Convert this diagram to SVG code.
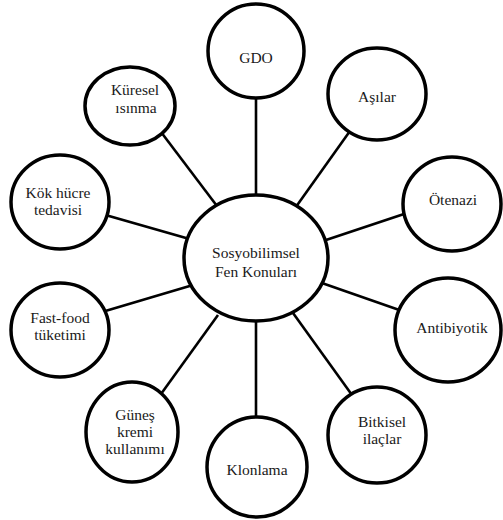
<svg xmlns="http://www.w3.org/2000/svg" width="503" height="520" viewBox="0 0 503 520">
<style>
.n{fill:#fff;stroke:#000;stroke-width:3.5}
.c line{stroke:#000;stroke-width:2.6}
.t text{font-family:'Liberation Serif','Tinos','Times New Roman','DejaVu Serif',serif;font-size:15.5px;fill:#1a1a1a;text-anchor:middle}
</style>
<rect width="503" height="520" fill="#fff"/>
<g id="connectors" class="c">
<line x1="256" y1="90" x2="256" y2="200"/>
<line x1="161" y1="132" x2="220" y2="210"/>
<line x1="350" y1="131" x2="293" y2="211"/>
<line x1="102" y1="214" x2="193" y2="240"/>
<line x1="410" y1="212" x2="320" y2="242"/>
<line x1="102" y1="312" x2="193" y2="285"/>
<line x1="319" y1="282" x2="405" y2="312"/>
<line x1="218" y1="315" x2="161" y2="394"/>
<line x1="256" y1="315" x2="256" y2="425"/>
<line x1="293" y1="313" x2="352" y2="395"/>
</g>
<g class="t" font-family="Liberation Serif, serif">
<g id="center">
<ellipse class="n" cx="256" cy="258" rx="72" ry="63"/>
<text x="256" y="258">Sosyobilimsel</text>
<text x="256" y="277">Fen Konuları</text>
</g>
<g id="gdo">
<ellipse class="n" cx="256" cy="51" rx="48" ry="47"/>
<text x="256" y="63">GDO</text>
</g>
<g id="kuresel">
<ellipse class="n" cx="130" cy="106" rx="45" ry="39"/>
<text x="135" y="95">Küresel</text>
<text x="136" y="113">ısınma</text>
</g>
<g id="asilar">
<ellipse class="n" cx="377" cy="94" rx="49" ry="46"/>
<text x="377" y="102">Aşılar</text>
</g>
<g id="kok">
<ellipse class="n" cx="60" cy="202" rx="49" ry="47"/>
<text x="58" y="198">Kök hücre</text>
<text x="58" y="215">tedavisi</text>
</g>
<g id="otenazi">
<ellipse class="n" cx="452" cy="204" rx="49" ry="47"/>
<text x="453" y="205">Ötenazi</text>
</g>
<g id="fastfood">
<ellipse class="n" cx="60" cy="330" rx="49" ry="47"/>
<text x="60" y="323">Fast-food</text>
<text x="60" y="340">tüketimi</text>
</g>
<g id="antibiyotik">
<ellipse class="n" cx="448" cy="330" rx="53" ry="52"/>
<text x="452" y="333">Antibiyotik</text>
</g>
<g id="gunes">
<ellipse class="n" cx="132" cy="432" rx="46" ry="50"/>
<text x="135" y="420">Güneş</text>
<text x="135" y="437">kremi</text>
<text x="135" y="454">kullanımı</text>
</g>
<g id="klonlama">
<ellipse class="n" cx="257" cy="467" rx="50" ry="50"/>
<text x="257" y="475">Klonlama</text>
</g>
<g id="bitkisel">
<ellipse class="n" cx="377" cy="435" rx="49" ry="48"/>
<text x="382" y="427">Bitkisel</text>
<text x="382" y="444">ilaçlar</text>
</g>
</g>
</svg>
